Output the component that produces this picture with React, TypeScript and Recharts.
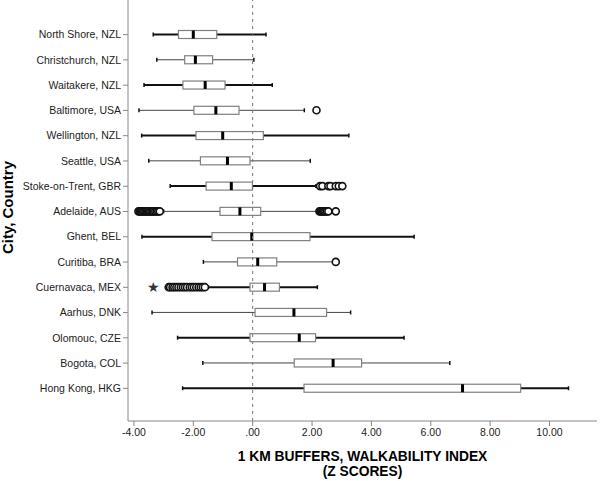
import React from 'react';
import { ComposedChart, Bar, XAxis, YAxis, ReferenceLine } from 'recharts';

const cities = [
  'North Shore, NZL', 'Christchurch, NZL', 'Waitakere, NZL', 'Baltimore, USA', 'Wellington, NZL',
  'Seattle, USA', 'Stoke-on-Trent, GBR', 'Adelaide, AUS', 'Ghent, BEL', 'Curitiba, BRA',
  'Cuernavaca, MEX', 'Aarhus, DNK', 'Olomouc, CZE', 'Bogota, COL', 'Hong Kong, HKG'
];
const mins = [-3.35, -3.23, -3.66, -3.83, -3.74, -3.5, -2.78, -3.0, -3.73, -1.66, -1.49, -3.39, -2.53, -1.68, -2.36];
const q1s = [-2.5, -2.29, -2.35, -1.98, -1.91, -1.76, -1.57, -1.1, -1.37, -0.51, -0.09, 0.08, -0.09, 1.4, 1.73];
const medians = [-2.0, -1.93, -1.6, -1.24, -1.01, -0.85, -0.72, -0.43, -0.03, 0.17, 0.4, 1.39, 1.57, 2.71, 7.07];
const q3s = [-1.21, -1.35, -0.93, -0.46, 0.36, -0.09, -0.01, 0.27, 1.93, 0.81, 0.9, 2.49, 2.12, 3.67, 9.03];
const maxs = [0.45, 0.04, 0.66, 1.74, 3.24, 1.94, 2.13, 2.15, 5.44, 2.71, 2.18, 3.3, 5.1, 6.64, 10.64];
const outliers: number[][] = [
  [], [], [], [2.15], [], [],
  [2.27, 2.35, 2.55, 2.62, 2.8, 2.9, 3.02],
  [-3.85, -3.81, -3.77, -3.73, -3.69, -3.65, -3.61, -3.57, -3.53, -3.49, -3.45, -3.41, -3.37, -3.33, -3.28, -3.23, -3.18, -3.13,
    2.25, 2.29, 2.33, 2.37, 2.41, 2.45, 2.5, 2.55, 2.8],
  [], [2.8],
  [-2.83, -2.78, -2.7, -2.64, -2.57, -2.5, -2.42, -2.35, -2.28, -2.21, -2.12, -2.05, -1.98, -1.9, -1.82, -1.75, -1.68, -1.61],
  [], [], [], []
];
const extremes: number[][] = [[], [], [], [], [], [], [], [], [], [], [-3.35], [], [], [], []];
const xTicks = [-4, -2, 0, 2, 4, 6, 8, 10];

const data = cities.map((city, i) => ({
  city,
  min: mins[i],
  q1: q1s[i],
  median: medians[i],
  q3: q3s[i],
  max: maxs[i],
  outliers: outliers[i],
  extremes: extremes[i]
}));

const FONT = '"Liberation Sans", Arial, sans-serif';

const fmt = (v: number) => {
  const s = v.toFixed(2);
  if (s === '0.00') return '.00';
  return s;
};

const BoxShape = (props: any) => {
  const { x, y, width, height, payload, index } = props;
  const span = payload.max - payload.min;
  const px = (v: number) => x + ((v - payload.min) / span) * width;
  const cy = y + height / 2;
  const thick = index % 2 === 0;
  const wColor = thick ? '#111' : '#444';
  const wWidth = thick ? 2 : 1;
  const bh = 8;
  return (
    <g>
      <line x1={px(payload.min)} x2={px(payload.max)} y1={cy} y2={cy} stroke={wColor} strokeWidth={wWidth} />
      <line x1={px(payload.min)} x2={px(payload.min)} y1={cy - 2} y2={cy + 2} stroke="#111" strokeWidth={1.5} />
      <line x1={px(payload.max)} x2={px(payload.max)} y1={cy - 2} y2={cy + 2} stroke="#111" strokeWidth={1.5} />
      <rect
        x={px(payload.q1)}
        y={cy - bh / 2}
        width={px(payload.q3) - px(payload.q1)}
        height={bh}
        fill="#fff"
        stroke="#808080"
        strokeWidth={1.2}
      />
      <line x1={px(payload.median)} x2={px(payload.median)} y1={cy - bh / 2} y2={cy + bh / 2} stroke="#000" strokeWidth={3} />
      {payload.outliers.map((v: number, k: number) => (
        <circle key={`o-${k}`} cx={px(v)} cy={cy} r={3.5} fill="#fff" stroke="#111" strokeWidth={1.6} />
      ))}
      {payload.extremes.map((v: number, k: number) => (
        <text key={`e-${k}`} x={px(v)} y={cy + 5} textAnchor="middle" fontSize={14} fill="#333" fontFamily={FONT}>
          ★
        </text>
      ))}
    </g>
  );
};

const CityTick = (props: any) => {
  const { x, y, payload } = props;
  return (
    <text x={x} y={y} dy="0.35em" textAnchor="end" fontSize={10.5} fill="#222" fontFamily={FONT}>
      {payload.value}
    </text>
  );
};

const XTitle = (props: any) => {
  const { viewBox } = props;
  const cx = viewBox.x + viewBox.width / 2;
  return (
    <text textAnchor="middle" fontSize={13.8} fontWeight="bold" fill="#000" fontFamily={FONT}>
      <tspan x={cx} y={viewBox.y + 40}>1 KM BUFFERS, WALKABILITY INDEX</tspan>
      <tspan x={cx} y={viewBox.y + 55}>(Z SCORES)</tspan>
    </text>
  );
};

const YTitle = (props: any) => {
  const { viewBox } = props;
  const x = viewBox.x + 13;
  const y = viewBox.y + viewBox.height / 2 - 3;
  return (
    <text x={x} y={y} transform={`rotate(-90, ${x}, ${y})`} textAnchor="middle" fontSize={15} fontWeight="bold" fill="#000" fontFamily={FONT}>
      City, Country
    </text>
  );
};

export default function App() {
  return (
    <div style={{ position: 'absolute', left: 0, top: 0, background: '#fff' }}>
      <ComposedChart
        width={600}
        height={481}
        data={data}
        layout="vertical"
        margin={{ top: 0, right: 3, left: 0, bottom: 0 }}
      >
        <XAxis
          type="number"
          domain={[-4.2, 11.6]}
          ticks={xTicks}
          tickFormatter={fmt}
          allowDataOverflow
          height={60}
          stroke="#888"
          tickSize={5}
          tickMargin={3}
          tick={{ fill: '#222', fontSize: 10.5, fontFamily: FONT }}
          label={<XTitle />}
        />
        <YAxis
          type="category"
          dataKey="city"
          width={128}
          stroke="#888"
          tickSize={5}
          tickMargin={2}
          padding={{ top: 22, bottom: 20 }}
          interval={0}
          tick={<CityTick />}
          label={<YTitle />}
        />
        <ReferenceLine x={0} stroke="#777" strokeDasharray="3 4" />
        <Bar
          dataKey={(d: any) => [d.min, d.max]}
          barSize={9}
          shape={<BoxShape />}
          isAnimationActive={false}
        />
      </ComposedChart>
    </div>
  );
}
